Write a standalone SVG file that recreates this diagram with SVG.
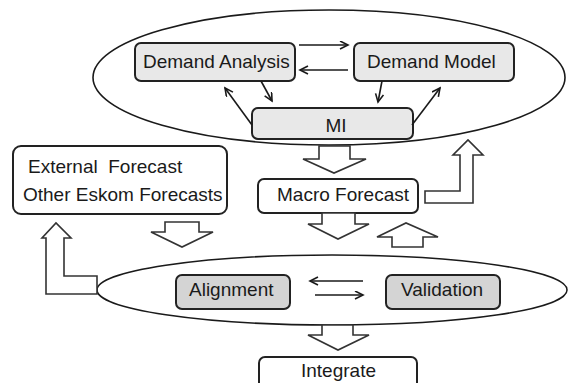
<svg xmlns="http://www.w3.org/2000/svg" width="573" height="383" viewBox="0 0 573 383">
<defs>
<style>
.ell{fill:none;stroke:#1a1a1a;stroke-width:1.6}
.box{stroke:#222;stroke-width:2}
.w{fill:#fff}
.g1{fill:#e8e8e8}
.g2{fill:#d4d4d4}
.t{font-family:"Liberation Sans",Arial,sans-serif;font-size:19px;fill:#1a1a1a}
.blk{fill:#fff;stroke:#333;stroke-width:1.6;stroke-linejoin:miter}
.ln{fill:none;stroke:#1a1a1a;stroke-width:1.6;marker-end:url(#ah)}
</style>
<marker id="ah" markerWidth="11" markerHeight="11" refX="9" refY="4.5" orient="auto" markerUnits="userSpaceOnUse">
<path d="M1,0.5 L9,4.5 L1,8.5" fill="none" stroke="#1a1a1a" stroke-width="1.6"/>
</marker>
</defs>
<g id="top-cluster"><ellipse class="ell" cx="329" cy="77.5" rx="236" ry="67.5"/></g>
<g id="bottom-cluster"><ellipse class="ell" cx="332" cy="290" rx="235" ry="35"/></g>
<g id="demand-analysis"><rect class="box g1" x="135" y="43" width="160" height="38" rx="6"/><text class="t" x="143" y="68">Demand Analysis</text></g>
<g id="demand-model"><rect class="box g1" x="354" y="43" width="160" height="38" rx="6"/><text class="t" x="367" y="68">Demand Model</text></g>
<g id="mi"><rect class="box g1" x="252" y="108" width="161" height="31" rx="6"/><text class="t" x="336" y="132" text-anchor="middle">MI</text></g>
<g id="external"><rect class="box w" x="13" y="146" width="214" height="68" rx="8"/><text class="t" x="28" y="173" xml:space="preserve">External  Forecast</text><text class="t" x="23" y="201">Other Eskom Forecasts</text></g>
<g id="macro"><rect class="box w" x="258" y="179" width="160" height="34" rx="6"/><text class="t" x="277" y="201">Macro Forecast</text></g>
<g id="alignment"><rect class="box g2" x="176" y="275" width="114" height="34" rx="6"/><text class="t" x="189" y="296">Alignment</text></g>
<g id="validation"><rect class="box g2" x="386" y="275" width="114" height="34" rx="6"/><text class="t" x="401" y="296">Validation</text></g>
<g id="integrate"><rect class="box w" x="259" y="357" width="158" height="40" rx="6"/><text class="t" x="301" y="377">Integrate</text></g>
<g id="connectors">
<line class="ln" x1="299" y1="45" x2="348" y2="45"/>
<line class="ln" x1="348" y1="70" x2="300" y2="70"/>
<line class="ln" x1="261" y1="81" x2="272" y2="101"/>
<line class="ln" x1="382" y1="81" x2="378" y2="102"/>
<line class="ln" x1="252" y1="125" x2="225" y2="88"/>
<line class="ln" x1="412" y1="125" x2="440" y2="88"/>
<line class="ln" x1="363" y1="281" x2="310" y2="281"/>
<line class="ln" x1="315" y1="295" x2="363" y2="295"/>
<polygon class="blk" points="319,146 350,146 350,159 366,159 334,173 303,159 319,159"/>
<polygon class="blk" points="425,191 460,191 460,155 453,155 468,140 483,155 473,155 473,203 425,203"/>
<polygon class="blk" points="322,213 355,213 355,224 369,224 338,239 308,224 322,224"/>
<polygon class="blk" points="392,247 423,247 423,237 438,237 406,223 377,237 392,237"/>
<polygon class="blk" points="165,222 199,222 199,232 213,232 182,247 151,232 165,232"/>
<polygon class="blk" points="97,276 64,276 64,238 71,238 56,223 42,238 46,238 46,294 97,294"/>
<polygon class="blk" points="322,325 353,325 353,335 369,335 338,350 308,335 322,335"/>
</g>
</svg>
